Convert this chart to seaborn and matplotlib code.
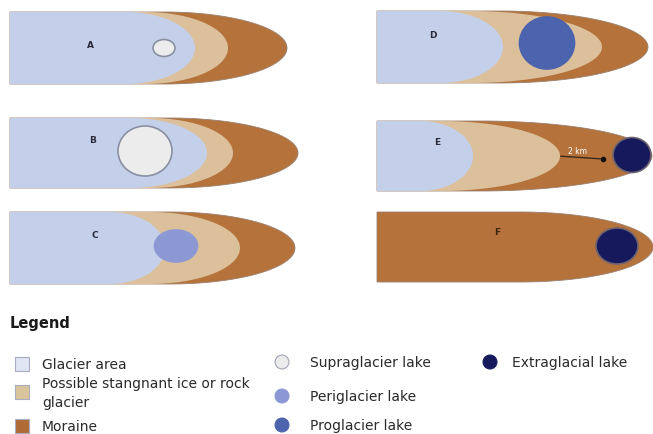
import numpy as np
import pandas as pd
import seaborn as sns
from matplotlib import pyplot as plt
from matplotlib import patches as mpatches

# panel letters and where each panel sits (left, top, bottom) in pixels
panels = ["A", "B", "C", "D", "E", "F"]
panel_left = [10, 10, 10, 377, 377, 377]
panel_top = [13, 119, 213, 12, 122, 213]
panel_bottom = [85, 189, 285, 84, 192, 283]
label_xy = [(90, 45), (93, 141), (95, 236), (433, 35), (437, 143), (497, 233)]

# zones: (centre of the curved end, half-width of the curved end); None = zone absent
moraine_end = [(165, 122), (170, 128), (170, 125), (500, 148), (480, 172), (520, 133)]
stagnant_end = [(145, 83), (150, 83), (150, 90), (470, 132), (440, 120), None]
glacier_end = [(125, 70), (130, 77), (110, 55), (440, 63), (420, 53), None]

# lakes: type, centre and width / height
lake_type = ["Supraglacier lake", "Supraglacier lake", "Periglacier lake",
             "Proglacier lake", "Extraglacial lake", "Extraglacial lake"]
lake_xy = [(164, 49), (145, 152), (176, 247), (547, 44), (632, 156), (617, 247)]
lake_size = [(22, 17), (54, 50), (43, 32), (55, 52), (38, 35), (42, 36)]

zone_names = ["Glacier area", "Possible stangnant ice or rock\nglacier", "Moraine"]
zone_colors = ["#c4d0ea", "#dcc09b", "#b5733b"]
zone_key_colors = ["#dfe5f3", "#d9c49c", "#b06b36"]
lake_names = ["Supraglacier lake", "Periglacier lake", "Proglacier lake", "Extraglacial lake"]
lake_colors = ["#ececec", "#8b98d4", "#4c63ad", "#161a5c"]
lake_edges = ["#8a90a2", "#8b98d4", "#4c63ad", "#6e6470"]

sns.set_theme(style="white")
plt.rcParams['font.family'] = ['DejaVu Sans']

fig = plt.figure(figsize=(6.53, 4.35), dpi=100)
ax = fig.add_axes([0, 0, 1, 1])
ax.set_xlim(0, 653)
ax.set_ylim(435, 0)
ax.axis("off")


def bullet(left, top, bottom, cx, a, color, edge):
    mid = (top + bottom) / 2
    h = (bottom - top) / 2
    t = np.linspace(-np.pi / 2, np.pi / 2, 80)
    pts = [(left, top)] + list(zip(cx + a * np.cos(t), mid + h * np.sin(t))) + [(left, bottom)]
    ax.add_patch(mpatches.Polygon(pts, closed=True, facecolor=color,
                                  edgecolor=edge, linewidth=0.6 if edge != "none" else 0))


for i in range(len(panels)):
    layers = [(moraine_end[i], zone_colors[2], "#9a8070"),
              (stagnant_end[i], zone_colors[1], "none"),
              (glacier_end[i], zone_colors[0], "none")]
    for end, col, edge in layers:
        if end is not None:
            bullet(panel_left[i], panel_top[i], panel_bottom[i], end[0], end[1], col, edge)
    k = lake_names.index(lake_type[i])
    ax.add_patch(mpatches.Ellipse(lake_xy[i], lake_size[i][0], lake_size[i][1],
                                  facecolor=lake_colors[k], edgecolor=lake_edges[k],
                                  linewidth=1.2))
    ax.text(label_xy[i][0], label_xy[i][1], panels[i], fontsize=6.5, fontweight="bold",
            color="#2a2a3a" if i < 5 else "#3a2510", ha="center", va="center")

# distance marker in panel E
ax.annotate("", xy=(603, 160), xytext=(558, 157),
            arrowprops=dict(arrowstyle="-", color="#3a2a1a", lw=1))
ax.plot(603, 160, "o", color="#111111", markersize=3)
ax.text(578, 152, "2 km", fontsize=5.5, color="white", ha="center", va="center")

# legend
ax.text(10, 324, "Legend", fontsize=10.5, fontweight="bold", color="#1a1a1a", va="center")

sq = pd.DataFrame({"x": [22, 22, 22], "y": [365, 393, 427], "name": ["a", "b", "c"]})
sns.scatterplot(data=sq, x="x", y="y", hue="name", palette=zone_key_colors, marker="s",
                s=110, edgecolor="#a8aebf", linewidth=0.8, legend=False, ax=ax)
txt = dict(fontsize=10, color="#2a2a2a", va="center")
ax.text(42, 365, zone_names[0], **txt)
ax.text(42, 384, "Possible stangnant ice or rock", **txt)
ax.text(42, 403, "glacier", **txt)
ax.text(42, 427, zone_names[2], **txt)

ci = pd.DataFrame({"x": [282, 282, 282, 490], "y": [363, 397, 426, 363], "name": lake_names})
sns.scatterplot(data=ci, x="x", y="y", hue="name", palette=lake_colors, marker="o",
                s=100, edgecolor=["#a0a4b4", "#8b98d4", "#4c63ad", "#161a5c"],
                linewidth=0.8, legend=False, ax=ax)
for name, (x, y) in zip(lake_names, [(310, 363), (310, 397), (310, 426), (512, 363)]):
    ax.text(x, y, name, **txt)

ax.set_xlim(0, 653)
ax.set_ylim(435, 0)
fig.savefig("out.png", dpi=100)
